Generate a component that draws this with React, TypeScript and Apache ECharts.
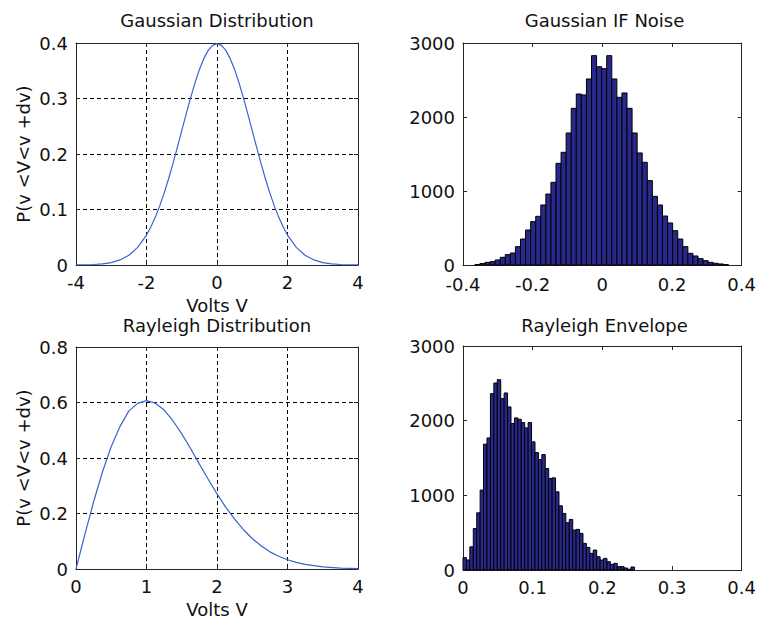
import React, { useEffect, useRef } from "react";
import * as echarts from "echarts";

// Gaussian pdf curve
const gaussX = [-4, -3.75, -3.5, -3.25, -3, -2.75, -2.5, -2.25, -2, -1.875, -1.75, -1.625, -1.5, -1.375, -1.25, -1.125, -1,
  -0.875, -0.75, -0.625, -0.5, -0.375, -0.25, -0.125, 0,
  0.125, 0.25, 0.375, 0.5, 0.625, 0.75, 0.875, 1, 1.125, 1.25, 1.375, 1.5, 1.625, 1.75, 1.875, 2,
  2.25, 2.5, 2.75, 3, 3.25, 3.5, 3.75, 4];
const gaussY = [0.0001, 0.0004, 0.0009, 0.002, 0.0044, 0.0091, 0.0175, 0.0317, 0.054, 0.0688, 0.0863, 0.1065, 0.1295, 0.155, 0.1826, 0.2119, 0.242,
  0.272, 0.3011, 0.3281, 0.3521, 0.3718, 0.3867, 0.3958, 0.3989,
  0.3958, 0.3867, 0.3718, 0.3521, 0.3281, 0.3011, 0.272, 0.242, 0.2119, 0.1826, 0.155, 0.1295, 0.1065, 0.0863, 0.0688, 0.054,
  0.0317, 0.0175, 0.0091, 0.0044, 0.002, 0.0009, 0.0004, 0.0001];

// Rayleigh pdf curve
const raylX = [0, 0.125, 0.25, 0.375, 0.5, 0.625, 0.75, 0.875, 1, 1.125, 1.25, 1.375, 1.5, 1.625, 1.75, 1.875, 2,
  2.125, 2.25, 2.375, 2.5, 2.625, 2.75, 2.875, 3, 3.125, 3.25, 3.5, 3.75, 4];
const raylY = [0, 0.124, 0.2423, 0.3495, 0.4412, 0.5141, 0.5698, 0.5967, 0.6065, 0.5975, 0.5728, 0.5343, 0.487, 0.434, 0.3779, 0.3233, 0.2707,
  0.2223, 0.1797, 0.1416, 0.1098, 0.0837, 0.0618, 0.0461, 0.0333, 0.0237, 0.0166, 0.0076, 0.0033, 0.0013];

// Gaussian IF noise histogram (50 bins)
const gaussHistRange = [-0.366, 0.362];
const gaussHistCounts = [5, 20, 36, 45, 68, 104, 140, 162, 248, 351, 473, 586, 658, 811, 959, 1117, 1374, 1523, 1784, 2117,
  2311, 2298, 2514, 2829, 2680, 2653, 2829, 2514, 2266, 2325, 2117, 1784, 1514, 1388, 1140, 928, 811, 662, 568, 464,
  351, 248, 158, 122, 86, 59, 36, 23, 14, 5];

// Rayleigh envelope histogram (50 bins)
const raylHistRange = [0, 0.246];
const raylHistCounts = [165, 134, 310, 555, 766, 1070, 1685, 1769, 2362, 2504, 2549, 2295, 2371, 2184, 1961, 2037, 2019, 1974, 1903, 1974,
  1716, 1573, 1480, 1546, 1359, 1226, 1234, 1047, 860, 758, 633, 677, 535, 544, 490, 357, 303, 223, 267, 178,
  134, 156, 111, 76, 89, 45, 45, 27, 10, 40];

const titles = ["Gaussian Distribution", "Gaussian IF Noise", "Rayleigh Distribution", "Rayleigh Envelope"];
const xLabel = "Volts V";
const yLabel = "P(v <V<v +dv)";

const FONT = "DejaVu Sans";
const FS = 18;
const TXT = "#111";
const AX = "#262626";

function histData(range: number[], counts: number[]) {
  const w = (range[1] - range[0]) / counts.length;
  return counts.map((c, i) => [range[0] + i * w, range[0] + (i + 1) * w, c]);
}

function fmt(v: number) {
  return String(+(+v).toFixed(3));
}

export default function App() {
  const ref = useRef<HTMLDivElement>(null);
  useEffect(() => {
    if (!ref.current) return;
    const chart = echarts.init(ref.current, undefined, { renderer: "svg" });

    const grids = [
      { left: 76, top: 43, width: 282, height: 222 },
      { left: 463, top: 43, width: 283, height: 222 },
      { left: 76, top: 347, width: 282, height: 222 },
      { left: 463, top: 346, width: 283, height: 224 },
    ];
    const xSpec = [
      { min: -4, max: 4, interval: 2 },
      { min: -0.4, max: 0.4, interval: 0.2 },
      { min: 0, max: 4, interval: 1 },
      { min: 0, max: 0.4, interval: 0.1 },
    ];
    const ySpec = [
      { min: 0, max: 0.4, interval: 0.1 },
      { min: 0, max: 3000, interval: 1000 },
      { min: 0, max: 0.8, interval: 0.2 },
      { min: 0, max: 3000, interval: 1000 },
    ];
    const withGrid = [true, false, true, false];
    const xMargin = [9, 11, 9, 9];
    const dashed = { color: "#000", width: 1, type: [4, 3] as any };

    const xAxis: any[] = [];
    const yAxis: any[] = [];
    for (let g = 0; g < 4; g++) {
      const common = {
        type: "value",
        gridIndex: g,
        axisLine: { show: true, onZero: false, lineStyle: { color: AX, width: 1 } },
        axisTick: { show: true, inside: true, length: 4, lineStyle: { color: AX, width: 1 } },
      };
      xAxis.push({
        ...common,
        ...xSpec[g],
        position: "bottom",
        name: withGrid[g] ? xLabel : "",
        nameLocation: "middle",
        nameGap: 31,
        nameTextStyle: { fontFamily: FONT, fontSize: FS, color: TXT },
        axisLabel: { show: true, margin: xMargin[g], fontFamily: FONT, fontSize: FS, lineHeight: 16, color: TXT, formatter: fmt },
        splitLine: { show: withGrid[g], showMinLine: false, showMaxLine: false, lineStyle: dashed },
      });
      xAxis.push({
        ...common,
        ...xSpec[g],
        position: "top",
        axisLabel: { show: false },
        splitLine: { show: false },
      });
      yAxis.push({
        ...common,
        ...ySpec[g],
        position: "left",
        name: withGrid[g] ? yLabel : "",
        nameLocation: "middle",
        nameRotate: 90,
        nameGap: 44,
        nameTextStyle: { fontFamily: FONT, fontSize: FS, color: TXT },
        axisLabel: { show: true, margin: 8, fontFamily: FONT, fontSize: FS, lineHeight: 14, color: TXT, formatter: fmt },
        splitLine: { show: withGrid[g], showMinLine: false, showMaxLine: false, lineStyle: dashed },
      });
      yAxis.push({
        ...common,
        ...ySpec[g],
        position: "right",
        axisLabel: { show: false },
        splitLine: { show: false },
      });
    }

    const renderBar = (params: any, api: any) => {
      const x0 = api.value(0);
      const x1 = api.value(1);
      const y = api.value(2);
      const p0 = api.coord([x0, y]);
      const p1 = api.coord([x1, 0]);
      return {
        type: "rect",
        shape: { x: p0[0], y: p0[1], width: p1[0] - p0[0], height: p1[1] - p0[1] },
        style: { fill: "#28288c", stroke: "#000", lineWidth: 1 },
      };
    };

    const titleY = [20, 20, 325, 325];
    const graphic = titles.map((t, i) => ({
      type: "text",
      x: grids[i].left + grids[i].width / 2,
      y: titleY[i],
      style: {
        text: t,
        fontFamily: FONT,
        fontSize: FS,
        fill: TXT,
        textAlign: "center",
        textVerticalAlign: "middle",
      },
      z: 10,
    }));

    chart.setOption({
      animation: false,
      backgroundColor: "#fff",
      grid: grids.map((g) => ({ ...g, containLabel: false })),
      xAxis,
      yAxis,
      graphic,
      series: [
        {
          type: "line",
          xAxisIndex: 0,
          yAxisIndex: 0,
          data: gaussX.map((x, i) => [x, gaussY[i]]),
          showSymbol: false,
          lineStyle: { color: "#3a62d2", width: 1.2 },
          z: 5,
        },
        {
          type: "custom",
          xAxisIndex: 2,
          yAxisIndex: 2,
          data: histData(gaussHistRange, gaussHistCounts),
          encode: { x: [0, 1], y: 2 },
          renderItem: renderBar,
        },
        {
          type: "line",
          xAxisIndex: 4,
          yAxisIndex: 4,
          data: raylX.map((x, i) => [x, raylY[i]]),
          showSymbol: false,
          lineStyle: { color: "#3a62d2", width: 1.2 },
          z: 5,
        },
        {
          type: "custom",
          xAxisIndex: 6,
          yAxisIndex: 6,
          data: histData(raylHistRange, raylHistCounts),
          encode: { x: [0, 1], y: 2 },
          renderItem: renderBar,
        },
      ],
    });
    return () => chart.dispose();
  }, []);
  return (
    <div
      ref={ref}
      style={{ position: "absolute", left: 0, top: 0, width: 759, height: 622, background: "#fff" }}
    />
  );
}
